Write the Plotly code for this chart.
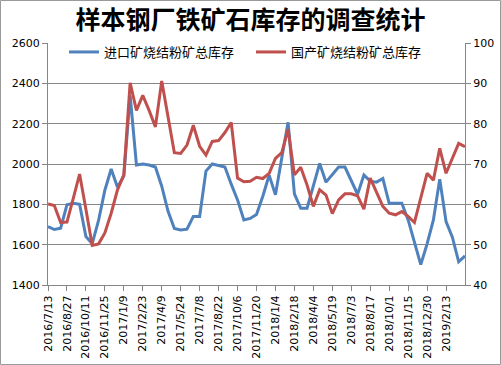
import plotly.graph_objects as go

dates = [
    "2016/7/13", "2016/7/28", "2016/8/12", "2016/8/27", "2016/9/11", "2016/9/26",
    "2016/10/11", "2016/10/26", "2016/11/10", "2016/11/25", "2016/12/10", "2016/12/25",
    "2017/1/9", "2017/1/24", "2017/2/8", "2017/2/23", "2017/3/10", "2017/3/25",
    "2017/4/9", "2017/4/24", "2017/5/9", "2017/5/24", "2017/6/8", "2017/6/23",
    "2017/7/8", "2017/7/23", "2017/8/7", "2017/8/22", "2017/9/6", "2017/9/21",
    "2017/10/6", "2017/10/21", "2017/11/5", "2017/11/20", "2017/12/5", "2017/12/20",
    "2018/1/4", "2018/1/19", "2018/2/3", "2018/2/18", "2018/3/5", "2018/3/20",
    "2018/4/4", "2018/4/19", "2018/5/4", "2018/5/19", "2018/6/3", "2018/6/18",
    "2018/7/3", "2018/7/18", "2018/8/2", "2018/8/17", "2018/9/1", "2018/9/16",
    "2018/10/1", "2018/10/16", "2018/10/31", "2018/11/15", "2018/11/30", "2018/12/15",
    "2018/12/30", "2019/1/14", "2019/1/29", "2019/2/13", "2019/2/28", "2019/3/15",
    "2019/3/30",
]

imported = [
    1690, 1675, 1682, 1798, 1805, 1800, 1640, 1605, 1720, 1870, 1975, 1885,
    1940, 2340, 1995, 2000, 1995, 1985, 1890, 1765, 1680, 1673, 1677, 1740,
    1740, 1965, 2000, 1993, 1985, 1900, 1822, 1722, 1730, 1750, 1840, 1945,
    1847, 2030, 2207, 1852, 1781, 1781, 1890, 2003, 1910, 1946, 1985, 1985,
    1921, 1850, 1945, 1915, 1910, 1928, 1805, 1805, 1805, 1723, 1612, 1501,
    1604, 1723, 1925, 1715, 1637, 1515, 1544,
]

domestic = [
    60.1, 59.7, 55.5, 55.6, 61.5, 67.5, 58.8, 49.8, 50.2, 52.9, 57.8, 63.6,
    67.3, 90.1, 83.3, 87.0, 83.3, 79.2, 90.6, 82.0, 72.8, 72.6, 74.7, 79.6,
    74.4, 72.2, 75.6, 75.8, 77.8, 80.3, 66.5, 65.6, 65.7, 66.7, 66.4, 67.7,
    71.4, 72.8, 78.6, 67.3, 69.2, 64.8, 59.5, 63.6, 62.3, 57.7, 61.1, 62.6,
    62.6, 62.1, 58.8, 66.5, 63.2, 59.5, 57.8, 57.4, 58.2, 57.0, 55.5, 61.9,
    67.7, 66.0, 73.9, 67.7, 71.2, 75.1, 74.3,
]

title_text = "样本钢厂铁矿石库存的调查统计"
name_imported = "进口矿烧结粉矿总库存"
name_domestic = "国产矿烧结粉矿总库存"

tick_dates = dates[:64:3]

W, H = 501, 365
L, R, T, B = 48, 36, 43, 80
pw, ph = W - L - R, H - T - B

fig = go.Figure()
fig.add_trace(go.Scatter(
    x=dates, y=imported, name=name_imported, mode="lines",
    line=dict(color="#4F81BD", width=3), yaxis="y",
))
fig.add_trace(go.Scatter(
    x=dates, y=domestic, name=name_domestic, mode="lines",
    line=dict(color="#C0504D", width=3), yaxis="y2",
))

axis_font = dict(family="DejaVu Sans", size=11, color="#000000")

fig.update_layout(
    width=W, height=H,
    margin=dict(l=L, r=R, t=T, b=B, pad=0, autoexpand=False),
    paper_bgcolor="white", plot_bgcolor="white",
    title=dict(
        text=title_text, x=0.5, xanchor="center", y=1 - 20 / H, yanchor="middle",
        font=dict(family="Noto Sans CJK SC", size=25, color="#000000", weight="bold"),
        automargin=False,
    ),
    showlegend=True,
    legend=dict(
        orientation="h", x=(64 - L) / pw, xanchor="left",
        y=1 - (52 - T) / ph, yanchor="middle",
        font=dict(family="Noto Sans CJK SC", size=13, color="#000000"),
        bgcolor="rgba(255,255,255,0)", entrywidth=142, itemwidth=30,
        tracegroupgap=0,
    ),
    xaxis=dict(
        type="category", range=[0, len(dates) - 1], automargin=False,
        tickmode="array", tickvals=tick_dates, ticktext=tick_dates,
        tickangle=-90, tickfont=axis_font,
        ticks="outside", ticklen=5, tickcolor="#868686",
        showline=True, linecolor="#868686", linewidth=1,
        showgrid=False, zeroline=False,
    ),
    yaxis=dict(
        range=[1400, 2600], dtick=200, tickfont=axis_font, automargin=False,
        ticks="outside", ticklen=5, tickcolor="#868686",
        showline=True, linecolor="#868686", linewidth=1,
        showgrid=True, gridcolor="#868686", gridwidth=1, zeroline=False,
    ),
    yaxis2=dict(
        range=[40, 100], dtick=10, tickfont=axis_font, overlaying="y", side="right",
        automargin=False,
        ticks="outside", ticklen=5, tickcolor="#868686",
        showline=True, linecolor="#868686", linewidth=1,
        showgrid=False, zeroline=False,
    ),
    shapes=[dict(
        type="rect", xref="paper", yref="paper",
        x0=(0.5 - L) / pw, x1=(W - 0.5 - L) / pw,
        y0=(H - B - (H - 0.5)) / ph, y1=(H - B - 0.5) / ph,
        line=dict(color="#9a9a9a", width=1), layer="below",
    )],
)

fig.write_html(
    "out.html",
    config={"displayModeBar": False},
    post_script="document.body.style.margin='0px';",
)
